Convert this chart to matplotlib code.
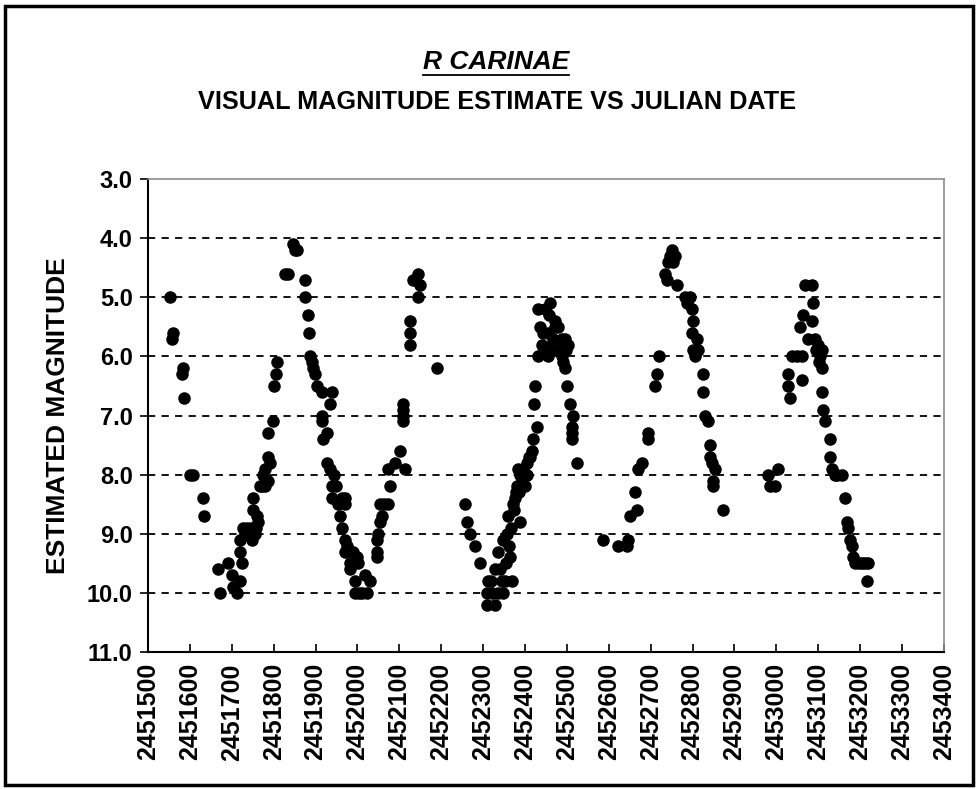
import numpy as np
import matplotlib
matplotlib.use("Agg")
import matplotlib.pyplot as plt
from matplotlib.patches import Rectangle
from matplotlib.lines import Line2D

plt.rcParams['font.family'] = ['Liberation Sans', 'DejaVu Sans']
plt.rcParams['font.weight'] = 'bold'

# visual estimates, one list per cycle (julian date, magnitude)
jd_1 = [2451553, 2451560, 2451557, 2451584, 2451581, 2451586, 2451600, 2451607,
        2451631, 2451634, 2451667, 2451672, 2451691, 2451700, 2451703, 2451712,
        2451720, 2451724, 2451720, 2451720, 2451732, 2451736, 2451727, 2451748,
        2451755, 2451751, 2451760, 2451763, 2451751, 2451767, 2451779, 2451786,
        2451779, 2451791, 2451786, 2451786, 2451798, 2451801, 2451806, 2451808,
        2451827, 2451834, 2451846, 2451851, 2451856,
        2451740, 2451745, 2451757, 2451772, 2451775]
mag_1 = [5.0, 5.6, 5.7, 6.2, 6.3, 6.7, 8.0, 8.0,
         8.4, 8.7, 9.6, 10.0, 9.5, 9.7, 9.9, 10.0,
         9.8, 9.5, 9.3, 9.1, 9.0, 8.9, 8.9, 9.1,
         9.0, 8.6, 8.7, 8.8, 8.4, 8.2, 8.2, 8.1,
         7.9, 7.8, 7.7, 7.3, 7.1, 6.5, 6.3, 6.1,
         4.6, 4.6, 4.1, 4.2, 4.2,
         9.0, 8.9, 8.9, 8.2, 8.0]

jd_2 = [2451875, 2451875, 2451882, 2451884, 2451887, 2451894, 2451899, 2451903,
        2451915, 2451939, 2451934, 2451915, 2451915, 2451927, 2451918, 2451927,
        2451934, 2451939, 2451939, 2451963, 2451970, 2451954, 2451970, 2451958,
        2451963, 2451970, 2451970, 2451989, 2451999, 2451982, 2451982, 2452001,
        2451994, 2451994, 2452011, 2452023, 2452018, 2452030,
        2452047, 2452047, 2452047, 2452049, 2452054, 2452059, 2452054, 2452073,
        2452078, 2452073, 2452090, 2452102, 2452113, 2452109, 2452109, 2452109,
        2452109, 2452125, 2452125, 2452125, 2452133, 2452144, 2452149, 2452144,
        2452190,
        2451891, 2451944, 2451950, 2451975, 2452004, 2452064]
mag_2 = [4.7, 5.0, 5.3, 5.6, 6.0, 6.2, 6.3, 6.5,
         6.6, 6.6, 6.8, 7.0, 7.1, 7.3, 7.4, 7.8,
         7.9, 8.2, 8.4, 8.4, 8.4, 8.5, 8.5, 8.7,
         8.9, 9.1, 9.3, 9.3, 9.4, 9.5, 9.6, 9.5,
         9.8, 10.0, 10.0, 10.0, 9.7, 9.8,
         9.4, 9.3, 9.1, 9.0, 8.8, 8.7, 8.5, 8.5,
         8.2, 7.9, 7.8, 7.6, 7.9, 6.8, 6.9, 7.0,
         7.1, 5.4, 5.6, 5.8, 4.7, 4.6, 4.8, 5.0,
         6.2,
         6.1, 8.0, 8.2, 9.2, 10.0, 8.5]

jd_3 = [2452257, 2452261, 2452269, 2452281, 2452292, 2452312, 2452352, 2452369,
        2452309, 2452335, 2452347, 2452309, 2452328, 2452328, 2452340, 2452335,
        2452364, 2452347, 2452357, 2452359, 2452388, 2452371, 2452376, 2452381,
        2452400, 2452388, 2452383, 2452405, 2452405, 2452412, 2452417, 2452419,
        2452429, 2452421, 2452424,
        2452431, 2452448, 2452460, 2452471, 2452436, 2452455, 2452479, 2452440,
        2452464, 2452495, 2452503, 2452431, 2452455, 2452488, 2452495, 2452483,
        2452452, 2452471, 2452488,
        2452500, 2452507, 2452514, 2452512, 2452512, 2452512, 2452524,
        2452318, 2452322, 2452345, 2452355, 2452362, 2452366, 2452374, 2452379,
        2452385, 2452392, 2452396, 2452409, 2452443, 2452446, 2452458, 2452467,
        2452476, 2452491, 2452498]
mag_3 = [8.5, 8.8, 9.0, 9.2, 9.5, 9.8, 9.8, 9.8,
         10.0, 10.0, 10.0, 10.2, 10.2, 9.6, 9.6, 9.3,
         9.4, 9.1, 9.0, 8.7, 8.8, 8.5, 8.4, 8.2,
         8.2, 8.0, 7.9, 8.0, 7.8, 7.7, 7.6, 7.4,
         7.2, 6.8, 6.5,
         5.2, 5.2, 5.1, 5.4, 5.5, 5.6, 5.5, 5.8,
         5.8, 5.7, 5.8, 6.0, 6.0, 6.0, 6.2, 5.9,
         5.9, 5.5, 5.7,
         6.5, 6.8, 7.0, 7.2, 7.3, 7.4, 7.8,
         9.8, 10.0, 9.8, 9.5, 9.2, 8.9, 8.6, 8.3,
         8.3, 8.1, 7.9, 7.7, 5.6, 5.9, 5.3, 5.7,
         5.9, 6.1, 5.9]

jd_4 = [2452586, 2452622, 2452643, 2452646, 2452651, 2452667, 2452662, 2452670,
        2452679, 2452693, 2452693, 2452710, 2452715, 2452720, 2452734, 2452739,
        2452741, 2452751, 2452758, 2452763, 2452782, 2452794, 2452799, 2452801,
        2452799, 2452810, 2452801, 2452813, 2452806, 2452825, 2452825, 2452830,
        2452837, 2452842, 2452842, 2452846, 2452853, 2452849, 2452849, 2452873,
        2452746, 2452754, 2452787]
mag_4 = [9.1, 9.2, 9.2, 9.1, 8.7, 8.6, 8.3, 7.9,
         7.8, 7.3, 7.4, 6.5, 6.3, 6.0, 4.6, 4.7,
         4.4, 4.2, 4.3, 4.8, 5.0, 5.0, 5.2, 5.4,
         5.6, 5.7, 5.9, 5.9, 6.0, 6.3, 6.6, 7.0,
         7.1, 7.5, 7.7, 7.8, 7.9, 8.1, 8.2, 8.6,
         4.3, 4.4, 5.1]

jd_5 = [2452980, 2453004, 2452985, 2452997, 2453028, 2453028, 2453032, 2453037,
        2453049, 2453061, 2453061, 2453056, 2453063, 2453085, 2453068, 2453085,
        2453087, 2453075, 2453092, 2453099, 2453109, 2453104, 2453109, 2453109,
        2453111, 2453116, 2453128, 2453128, 2453133, 2453145, 2453157, 2453164,
        2453169, 2453171, 2453176, 2453180, 2453183, 2453188, 2453204, 2453219,
        2453216,
        2453095, 2453102, 2453140, 2453196, 2453212]
mag_5 = [8.0, 7.9, 8.2, 8.2, 6.3, 6.5, 6.7, 6.0,
         6.0, 6.0, 6.4, 5.5, 5.3, 5.4, 4.8, 4.8,
         5.1, 5.7, 5.7, 5.8, 5.9, 6.0, 6.2, 6.6,
         6.9, 7.1, 7.4, 7.7, 7.9, 8.0, 8.0, 8.4,
         8.8, 8.9, 9.1, 9.2, 9.4, 9.5, 9.5, 9.5,
         9.8,
         5.9, 6.1, 8.0, 9.5, 9.5]

x_ticks = list(range(2451500, 2453401, 100))
y_ticks = [3.0, 4.0, 5.0, 6.0, 7.0, 8.0, 9.0, 10.0, 11.0]

jd = np.concatenate([jd_1, jd_2, jd_3, jd_4, jd_5])
mag = np.concatenate([mag_1, mag_2, mag_3, mag_4, mag_5])

fig = plt.figure(figsize=(9.78, 7.89), dpi=100)
ax = fig.add_axes([0.1513, 0.1736, 0.8139, 0.5995])

for y in y_ticks[1:-1]:
    ax.axhline(y, color='black', lw=1.3, ls=(0, (4, 3.5)), zorder=1)

ax.plot(jd, mag, 'o', color='black', ms=8, zorder=3)

ax.set_xlim(2451500, 2453400)
ax.set_ylim(11.0, 3.0)
ax.set_xticks(x_ticks)
ax.set_xticklabels([str(t) for t in x_ticks], rotation=90, fontsize=18, fontweight='bold')
ax.set_yticks(y_ticks)
ax.set_yticklabels(['%.1f' % t for t in y_ticks], fontsize=17, fontweight='bold')
ax.tick_params(axis='x', direction='in', length=6, width=1.2, pad=8)
ax.tick_params(axis='y', direction='out', length=6, width=1.2, pad=5)
ax.set_ylabel('ESTIMATED MAGNITUDE', fontsize=19, fontweight='bold', labelpad=12)

for side in ['left', 'bottom']:
    ax.spines[side].set_linewidth(1.5)
for side in ['top', 'right']:
    ax.spines[side].set_color('#8c8c8c')
    ax.spines[side].set_linewidth(1.2)

t1 = fig.text(0.507, 0.913, 'R CARINAE', ha='center', va='baseline',
              fontsize=19, fontweight='bold', style='italic')
fig.text(0.508, 0.862, 'VISUAL MAGNITUDE ESTIMATE VS JULIAN DATE', ha='center',
         va='baseline', fontsize=18.2, fontweight='bold')

fig.patches.append(Rectangle((0.005, 0.005), 0.99, 0.988, transform=fig.transFigure,
                             fill=False, edgecolor='black', lw=2.5))

# underline the star name
fig.canvas.draw()
bb = t1.get_window_extent().transformed(fig.transFigure.inverted())
fig.lines.append(Line2D([bb.x0, bb.x1], [bb.y0 - 0.002, bb.y0 - 0.002],
                        transform=fig.transFigure, color='black', lw=1.3))

fig.savefig('out.png', dpi=100)
